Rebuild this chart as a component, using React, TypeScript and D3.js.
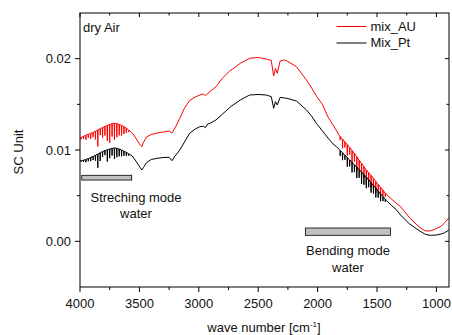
import React from "react";
import * as d3 from "d3";

// ---- data (wave number in cm^-1, SC units) ----
// stretching-mode region (water vapour lines)
const wnStretch: number[] = [
  4000, 3992, 3990, 3988, 3972, 3970, 3968, 3952, 3950, 3948, 3932, 3930, 3928, 3912, 3910, 3908,
  3892, 3890, 3888, 3872, 3870, 3868, 3852, 3850, 3848, 3832, 3830, 3828, 3812, 3810, 3808,
  3792, 3790, 3788, 3772, 3770, 3768, 3752, 3750, 3748, 3732, 3730, 3728, 3712, 3710, 3708,
  3692, 3690, 3688, 3672, 3670, 3668, 3652, 3650, 3648, 3632, 3630, 3628, 3612, 3610, 3608,
  3592, 3590, 3588, 3580,
];
const auStretch: number[] = [
  0.01131, 0.01138, 0.01118, 0.01138, 0.0115, 0.0112, 0.0115, 0.01163, 0.01113, 0.01163, 0.01173, 0.01133, 0.01173, 0.01182, 0.01122, 0.01182,
  0.01193, 0.01143, 0.01193, 0.01206, 0.01116, 0.01206, 0.01219, 0.01039, 0.01219, 0.01233, 0.01163, 0.01233, 0.01246, 0.01136, 0.01246,
  0.01258, 0.01158, 0.01258, 0.01269, 0.01099, 0.01269, 0.01279, 0.01079, 0.01279, 0.01288, 0.01148, 0.01288, 0.01293, 0.01113, 0.01293,
  0.01289, 0.01139, 0.01289, 0.0128, 0.0116, 0.0128, 0.01269, 0.01159, 0.01269, 0.01255, 0.01175, 0.01255, 0.01239, 0.01189, 0.01239,
  0.01219, 0.01199, 0.01219, 0.01208,
];
const ptStretch: number[] = [
  0.0088, 0.00883, 0.00873, 0.00883, 0.00889, 0.00869, 0.00889, 0.00897, 0.00867, 0.00897, 0.00907, 0.00877, 0.00907, 0.00918, 0.00878, 0.00918,
  0.0093, 0.0089, 0.0093, 0.00943, 0.00883, 0.00943, 0.00956, 0.00806, 0.00956, 0.0097, 0.0088, 0.0097, 0.00983, 0.00923, 0.00983,
  0.00994, 0.00944, 0.00994, 0.01003, 0.00873, 0.01003, 0.01011, 0.00911, 0.01011, 0.01019, 0.00939, 0.01019, 0.01023, 0.00903, 0.01023,
  0.0102, 0.0092, 0.0102, 0.01011, 0.00931, 0.01011, 0.01001, 0.00931, 0.01001, 0.00988, 0.00938, 0.00988, 0.00974, 0.00934, 0.00974,
  0.00959, 0.00939, 0.00959, 0.0095,
];

// middle (smooth) region
const wnMiddle: number[] = [
  3560, 3530, 3505, 3480, 3465, 3440, 3400, 3350, 3300, 3250, 3226, 3200, 3160, 3120, 3077, 3030,
  2992, 2960, 2945, 2925, 2900, 2855, 2800, 2740, 2712, 2650, 2572, 2500, 2432, 2390, 2370, 2355,
  2340, 2315, 2280, 2250, 2178, 2094, 2050, 2010, 1960, 1912, 1870, 1840,
];
const auMiddle: number[] = [
  0.01186, 0.01131, 0.01075, 0.01036, 0.01085, 0.01142, 0.0117, 0.01186, 0.01197, 0.01208, 0.01186, 0.01241, 0.01347, 0.0146, 0.01542, 0.0158,
  0.01602, 0.01613, 0.01595, 0.01619, 0.01646, 0.01693, 0.01789, 0.01865, 0.0189, 0.0195, 0.02004, 0.02013, 0.01995, 0.0198, 0.01811, 0.01893,
  0.0184, 0.01975, 0.01986, 0.01969, 0.01912, 0.01767, 0.01679, 0.0159, 0.015, 0.0136, 0.01274, 0.0121,
];
const ptMiddle: number[] = [
  0.00934, 0.0088, 0.0083, 0.00781, 0.0081, 0.00862, 0.00896, 0.00909, 0.00918, 0.0092, 0.00883, 0.00934, 0.01, 0.01088, 0.01183, 0.0123,
  0.01255, 0.0126, 0.01245, 0.01285, 0.01296, 0.01329, 0.01394, 0.01465, 0.01493, 0.01548, 0.01602, 0.01608, 0.01602, 0.01584, 0.01457, 0.01529,
  0.01493, 0.01577, 0.0157, 0.01563, 0.01537, 0.01439, 0.0137, 0.01292, 0.0121, 0.0113, 0.01066, 0.01036,
];

// bending-mode region (water vapour lines)
const wnBend: number[] = [
  1820, 1812, 1810, 1808, 1792, 1790, 1788, 1772, 1770, 1768, 1752, 1750, 1748, 1732, 1730, 1728,
  1712, 1710, 1708, 1692, 1690, 1688, 1672, 1670, 1668, 1652, 1650, 1648, 1632, 1630, 1628,
  1612, 1610, 1608, 1592, 1590, 1588, 1572, 1570, 1568, 1552, 1550, 1548, 1532, 1530, 1528,
  1512, 1510, 1508, 1492, 1490, 1488, 1472, 1470, 1468, 1452, 1450, 1448, 1432, 1430, 1428, 1420,
];
const auBend: number[] = [
  0.01164, 0.01148, 0.01108, 0.01148, 0.01118, 0.01018, 0.01118, 0.01088, 0.01028, 0.01088, 0.01058, 0.00938, 0.01058, 0.01028, 0.00948, 0.01028,
  0.00995, 0.00855, 0.00995, 0.00962, 0.00872, 0.00962, 0.00926, 0.00766, 0.00926, 0.00888, 0.00788, 0.00888, 0.00853, 0.00703, 0.00853,
  0.00817, 0.00697, 0.00817, 0.00781, 0.00621, 0.00781, 0.00751, 0.00661, 0.00751, 0.00721, 0.00591, 0.00721, 0.00688, 0.00588, 0.00688,
  0.00655, 0.00535, 0.00655, 0.00623, 0.00543, 0.00623, 0.0059, 0.0049, 0.0059, 0.00559, 0.00499, 0.00559, 0.00529, 0.00489, 0.00529, 0.00513,
];
const ptBend: number[] = [
  0.01008, 0.00995, 0.00935, 0.00995, 0.00969, 0.00889, 0.00969, 0.00943, 0.00893, 0.00943, 0.00917, 0.00817, 0.00917, 0.00891, 0.00821, 0.00891,
  0.00864, 0.00754, 0.00864, 0.00838, 0.00758, 0.00838, 0.00813, 0.00693, 0.00813, 0.00786, 0.00696, 0.00786, 0.00758, 0.00628, 0.00758,
  0.0073, 0.0062, 0.0073, 0.00702, 0.00582, 0.00702, 0.00673, 0.00593, 0.00673, 0.00643, 0.00533, 0.00643, 0.00613, 0.00523, 0.00613,
  0.00581, 0.00481, 0.00581, 0.00549, 0.00479, 0.00549, 0.00519, 0.00439, 0.00519, 0.00491, 0.00441, 0.00491, 0.00462, 0.00432, 0.00462, 0.00448,
];

// low wave-number tail
const wnTail: number[] = [1380, 1340, 1308, 1270, 1224, 1180, 1140, 1100, 1070, 1040, 1000, 960, 930, 896];
const auTail: number[] = [0.00465, 0.0042, 0.00387, 0.0033, 0.00255, 0.002, 0.00151, 0.00118, 0.00113, 0.00118, 0.0014, 0.00165, 0.00205, 0.00255];
const ptTail: number[] = [0.00395, 0.0035, 0.00299, 0.00245, 0.00189, 0.00148, 0.00113, 0.00082, 0.00069, 0.00066, 0.00069, 0.0008, 0.00095, 0.00124];

const xMajorTicks = [4000, 3500, 3000, 2500, 2000, 1500, 1000];
const xMinorTicks = [3750, 3250, 2750, 2250, 1750, 1250];
const yMajorTicks = [0, 0.01, 0.02];
const yMinorTicks = [0.005, 0.015];
const seriesNames = ["mix_AU", "Mix_Pt"];

const W = 452;
const H = 335;
const FONT = "'Liberation Sans', Arial, sans-serif";

export default function App() {
  const x = d3.scaleLinear().domain([4000, 894]).range([80, 449]);
  const y = d3.scaleLinear().domain([-0.005, 0.025]).range([287, 13]);
  const [x0, x1] = x.range();
  const [y0, y1] = y.range();

  const line = d3
    .line<[number, number]>()
    .x((d) => x(d[0]))
    .y((d) => y(d[1]));

  const wn = [...wnStretch, ...wnMiddle, ...wnBend, ...wnTail];
  const au = [...auStretch, ...auMiddle, ...auBend, ...auTail];
  const pt = [...ptStretch, ...ptMiddle, ...ptBend, ...ptTail];
  const auPts = wn.map((w, i) => [w, au[i]] as [number, number]);
  const ptPts = wn.map((w, i) => [w, pt[i]] as [number, number]);

  const fmt = d3.format(".2f");

  return (
    <svg
      width={W}
      height={H}
      style={{ position: "absolute", left: 0, top: 0, background: "#fff" }}
      fontFamily={FONT}
    >
      <rect x={0} y={0} width={W} height={H} fill="#fff" />
      <defs>
        <clipPath id="plotclip">
          <rect x={x0} y={y1} width={x1 - x0} height={y0 - y1} />
        </clipPath>
      </defs>

      {/* curves */}
      <g clipPath="url(#plotclip)">
        <path d={line(auPts) || ""} fill="none" stroke="#ff0000" strokeWidth={1} />
        <path d={line(ptPts) || ""} fill="none" stroke="#000" strokeWidth={1} />
      </g>

      {/* annotation bars */}
      <rect
        x={x(3985)}
        y={y(0.00723)}
        width={x(3565) - x(3985)}
        height={y(0.00671) - y(0.00723)}
        fill="#c0c0c0"
        stroke="#000"
        strokeWidth={0.8}
      />
      <rect
        x={x(2103)}
        y={y(0.00146)}
        width={x(1387) - x(2103)}
        height={y(0.00066) - y(0.00146)}
        fill="#c0c0c0"
        stroke="#000"
        strokeWidth={0.8}
      />
      <text x={136} y={202.3} fontSize={13} textAnchor="middle" fill="#111">Streching mode</text>
      <text x={136} y={217.7} fontSize={13} textAnchor="middle" fill="#111">water</text>
      <text x={348} y={255} fontSize={13} textAnchor="middle" fill="#111">Bending mode</text>
      <text x={348} y={271.7} fontSize={13} textAnchor="middle" fill="#111">water</text>

      {/* frame */}
      <rect x={x0} y={y1} width={x1 - x0} height={y0 - y1} fill="none" stroke="#000" strokeWidth={1} />

      {/* x ticks */}
      {xMajorTicks.map((t) => (
        <g key={"xm" + t}>
          <line x1={x(t)} x2={x(t)} y1={y0} y2={y0 + 5} stroke="#000" />
          <line x1={x(t)} x2={x(t)} y1={y1} y2={y1 + 4} stroke="#000" />
          <text x={x(t)} y={308} fontSize={13} textAnchor="middle" fill="#111">{t}</text>
        </g>
      ))}
      {xMinorTicks.map((t) => (
        <g key={"xn" + t}>
          <line x1={x(t)} x2={x(t)} y1={y0} y2={y0 + 3} stroke="#000" />
          <line x1={x(t)} x2={x(t)} y1={y1} y2={y1 + 2.5} stroke="#000" />
        </g>
      ))}

      {/* y ticks */}
      {yMajorTicks.map((t) => (
        <g key={"ym" + t}>
          <line x1={x0 - 5} x2={x0} y1={y(t)} y2={y(t)} stroke="#000" />
          <line x1={x1 - 4} x2={x1} y1={y(t)} y2={y(t)} stroke="#000" />
          <text x={71} y={y(t) + 4.6} fontSize={13} textAnchor="end" fill="#111">{fmt(t)}</text>
        </g>
      ))}
      {yMinorTicks.map((t) => (
        <g key={"yn" + t}>
          <line x1={x0 - 3} x2={x0} y1={y(t)} y2={y(t)} stroke="#000" />
          <line x1={x1 - 2.5} x2={x1} y1={y(t)} y2={y(t)} stroke="#000" />
        </g>
      ))}

      {/* axis titles */}
      <text transform={`translate(23,152) rotate(-90)`} fontSize={13} textAnchor="middle" fill="#111">
        SC Unit
      </text>
      <text x={264} y={331.5} fontSize={13} textAnchor="middle" fill="#111">
        wave number [cm
        <tspan fontSize={8} dy={-5}>-1</tspan>
        <tspan dy={5}>]</tspan>
      </text>

      {/* labels */}
      <text x={83} y={31.5} fontSize={13} fill="#111">dry Air</text>

      {/* legend */}
      <line x1={336.5} x2={366.5} y1={26.5} y2={26.5} stroke="#ff0000" strokeWidth={1} />
      <text x={370.5} y={30.8} fontSize={13} fill="#111">{seriesNames[0]}</text>
      <line x1={336.5} x2={366.5} y1={43} y2={43} stroke="#000" strokeWidth={1} />
      <text x={370.5} y={47.3} fontSize={13} fill="#111">{seriesNames[1]}</text>
    </svg>
  );
}
